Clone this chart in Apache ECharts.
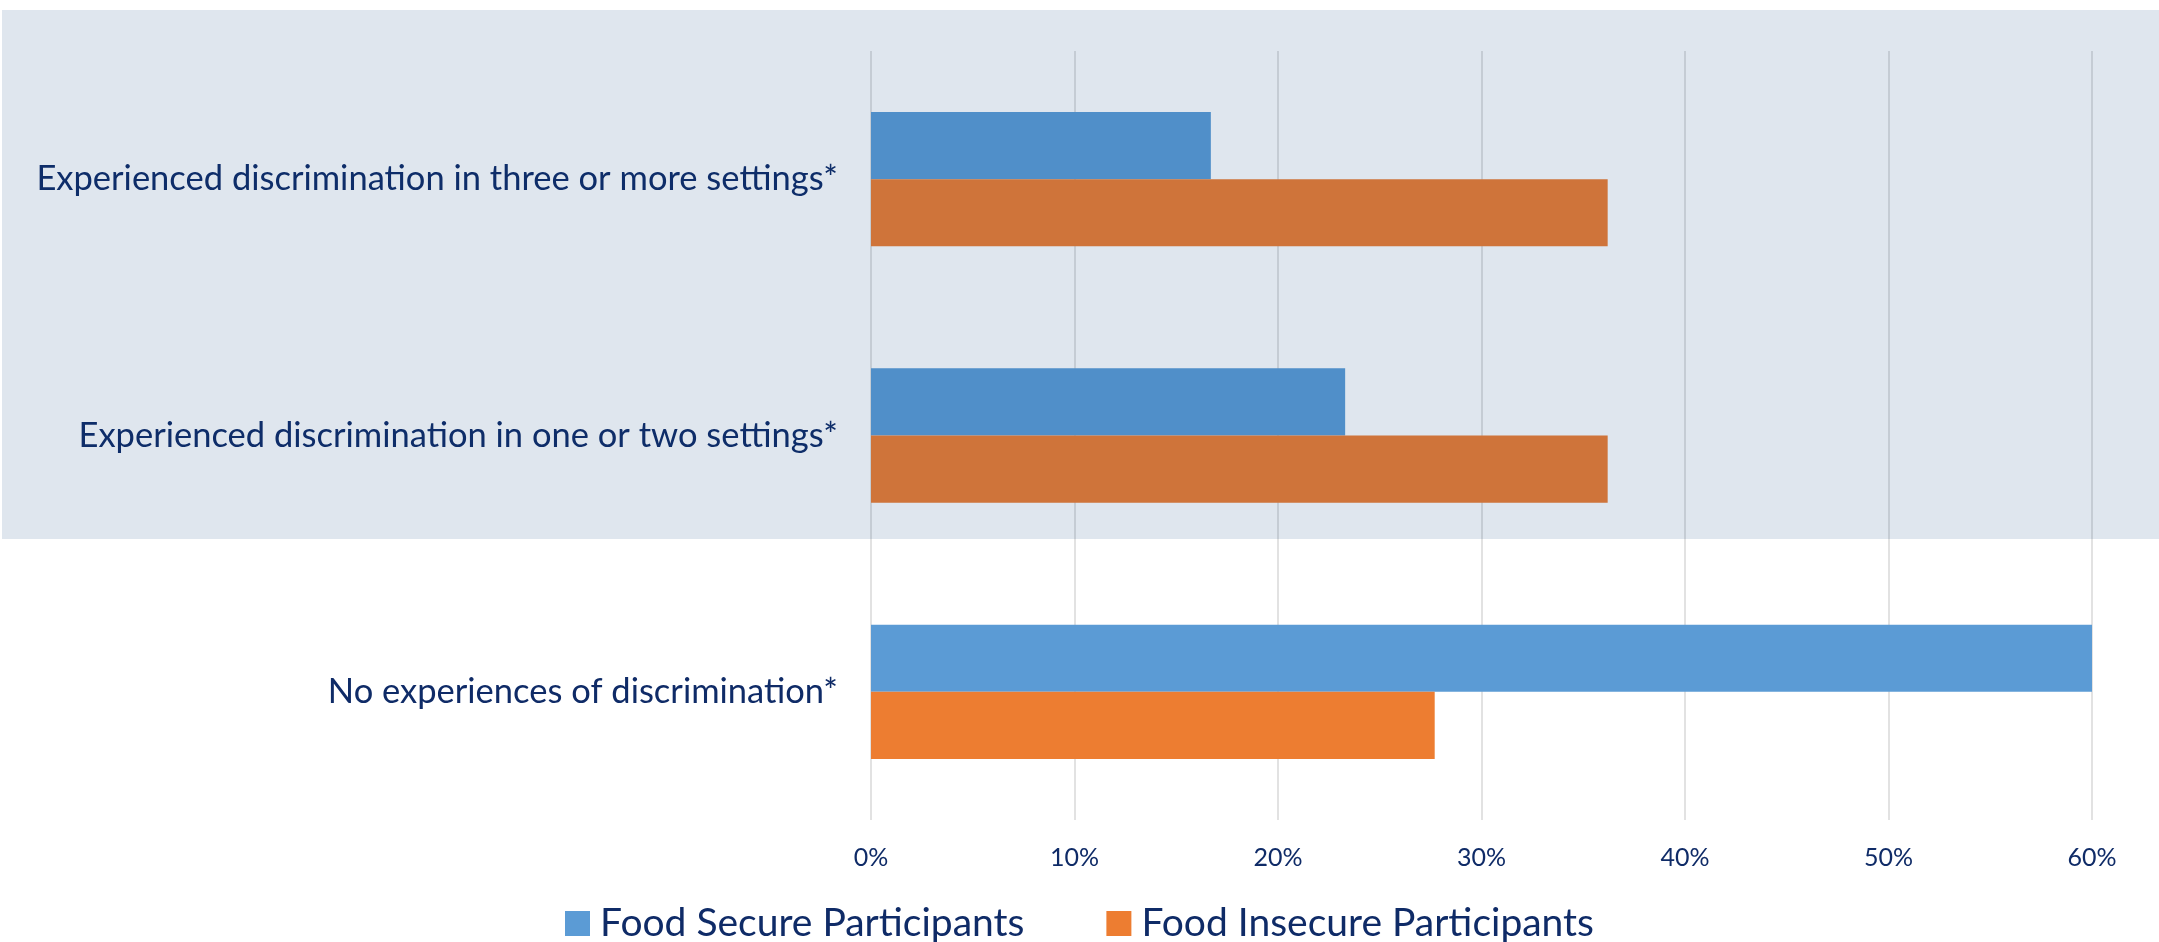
<!DOCTYPE html>
<html>
<head>
<meta charset="utf-8">
<script src="https://cdn.jsdelivr.net/npm/echarts@6/dist/echarts.min.js"></script>
<style>
html,body{margin:0;padding:0;background:#fff;}
#chart{width:2159px;height:942px;}
</style>
</head>
<body>
<div id="chart"></div>
<script>
// Data (top to bottom)
const categories = [
  'Experienced discrimination in three or more settings*',
  'Experienced discrimination in one or two settings*',
  'No experiences of discrimination*'
];
const seriesNames = ['Food Secure Participants', 'Food Insecure Participants'];
const foodSecure = [16.7, 23.3, 60.0];
const foodInsecure = [36.2, 36.2, 27.7];
const tickValues = [0, 10, 20, 30, 40, 50, 60];

const FONT = 'Lato';
const TEXT = '#0F2B67';

const chart = echarts.init(document.getElementById('chart'), null, {renderer: 'canvas'});
chart.setOption({
  animation: false,
  backgroundColor: '#ffffff',
  grid: {left: 871, right: 67, top: 51, bottom: 122, containLabel: false},
  xAxis: {
    type: 'value',
    min: tickValues[0],
    max: tickValues[tickValues.length - 1],
    interval: 10,
    axisLine: {show: false},
    axisTick: {show: false},
    splitLine: {show: true, lineStyle: {color: '#D9D9D9', width: 1.5}},
    axisLabel: {
      formatter: '{value}%',
      color: TEXT,
      fontFamily: FONT,
      fontSize: 25,
      margin: 25
    }
  },
  yAxis: {
    type: 'category',
    inverse: true,
    data: categories,
    axisLine: {show: false},
    axisTick: {show: false},
    splitLine: {show: false},
    axisLabel: {
      color: TEXT,
      fontFamily: FONT,
      fontSize: 34.5,
      margin: 33
    }
  },
  legend: {
    data: seriesNames,
    top: 899,
    left: 'center',
    itemWidth: 25,
    itemHeight: 25,
    itemGap: 82,
    icon: 'rect',
    textStyle: {color: TEXT, fontFamily: FONT, fontSize: 39, padding: [0, 0, 0, 5]}
  },
  series: [
    {
      name: seriesNames[0],
      type: 'bar',
      data: foodSecure,
      barGap: '0%',
      barCategoryGap: '47.6%',
      itemStyle: {color: '#5B9BD5'}
    },
    {
      name: seriesNames[1],
      type: 'bar',
      data: foodInsecure,
      barGap: '0%',
      barCategoryGap: '47.6%',
      itemStyle: {color: '#ED7D31'}
    }
  ],
  graphic: [
    {
      type: 'rect',
      z: 100,
      silent: true,
      shape: {x: 2, y: 10, width: 2157, height: 529},
      style: {fill: 'rgba(5,59,122,0.128)'}
    }
  ]
});
</script>
</body>
</html>
